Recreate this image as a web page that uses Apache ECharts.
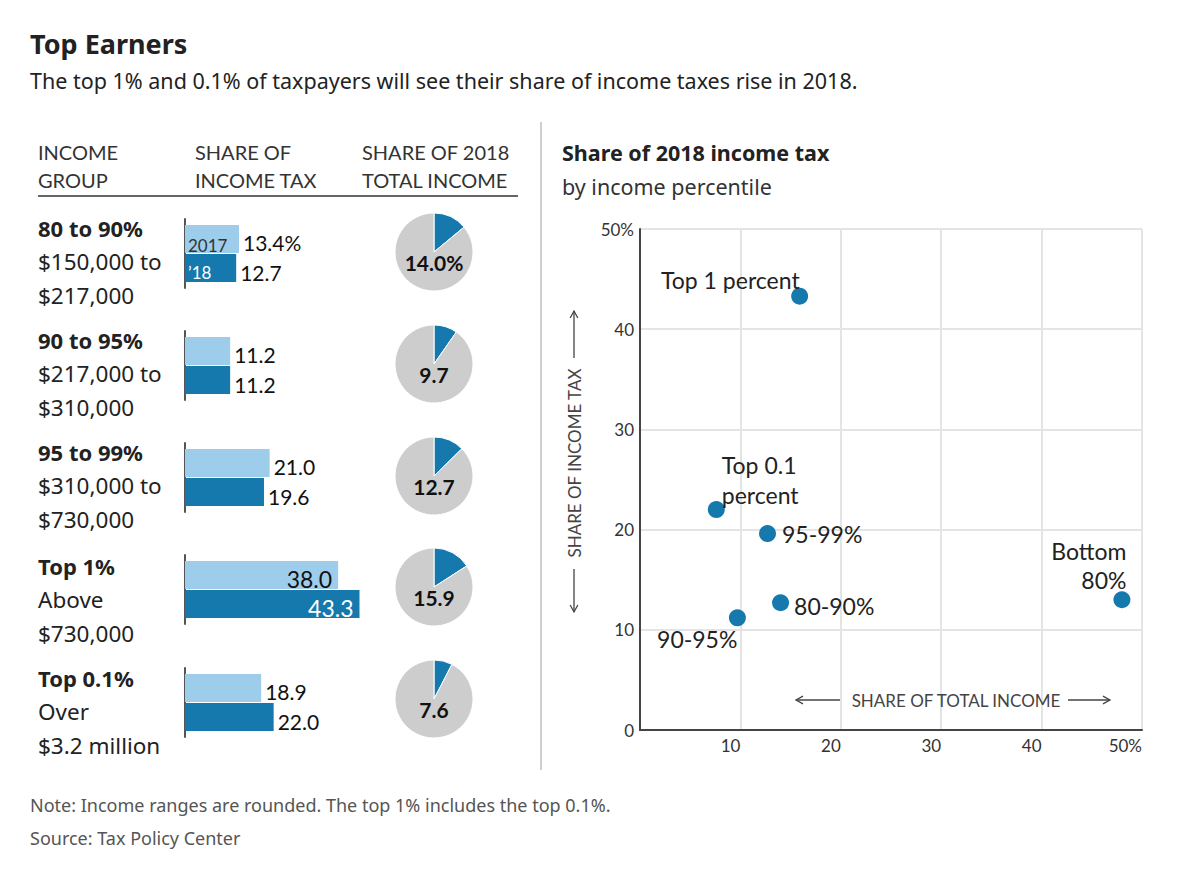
<!DOCTYPE html>
<html>
<head>
<meta charset="utf-8">
<script src="https://cdn.jsdelivr.net/npm/echarts@6/dist/echarts.min.js"></script>
<style>
html, body { margin: 0; padding: 0; background: #fff; }
#chart { width: 1202px; height: 878px; }
</style>
</head>
<body>
<div id="chart"></div>
<script>
// table on the left
var groupNames = ['80 to 90%', '90 to 95%', '95 to 99%', 'Top 1%', 'Top 0.1%'];
var groupRanges = [['$150,000 to', '$217,000'], ['$217,000 to', '$310,000'], ['$310,000 to', '$730,000'], ['Above', '$730,000'], ['Over', '$3.2 million']];
var tax2017 = [13.4, 11.2, 21.0, 38.0, 18.9];
var tax2018 = [12.7, 11.2, 19.6, 43.3, 22.0];
var incomeShare = [14.0, 9.7, 12.7, 15.9, 7.6];

// scatter on the right
var pointNames = ['Top 1 percent', 'Top 0.1\npercent', '95-99%', '80-90%', '90-95%', 'Bottom\n80%'];
var pointIncome = [15.9, 7.6, 12.7, 14.0, 9.7, 48.0];
var pointTax = [43.3, 22.0, 19.6, 12.7, 11.2, 13.0];
var axisMax = 50;
var axisStep = 10;

var FONT = 'Lato, "Noto Sans", sans-serif';
var BODY = '"Noto Sans", Lato, sans-serif';
var DARK = '#1579ad', LIGHT = '#9dcdeb', GRAY = '#cdcdcd';

// layout of the rows
var rowTop = [219, 331, 443, 555, 668];
var pieY = [252, 364, 476, 587, 699];
var textY = [228, 340, 452, 566, 678];

// where each scatter label sits, relative to its dot
var labelPlace = [
  { position: [8.5, -7.5], align: 'right', verticalAlign: 'middle' },
  { position: [14, 9], align: 'left', verticalAlign: 'bottom', lineHeight: 30 },
  { position: [23, 9], align: 'left', verticalAlign: 'middle' },
  { position: [22, 12], align: 'left', verticalAlign: 'middle' },
  { position: [8.5, 29.5], align: 'right', verticalAlign: 'middle' },
  { position: [13, 3.5], align: 'right', verticalAlign: 'bottom', lineHeight: 29 }
];

function txt(x, y, s, size, opt) {
  opt = opt || {};
  return {
    type: 'text', x: x, y: y, z: 100, rotation: opt.rotation || 0, silent: true,
    style: {
      text: s, fontSize: size, fontFamily: opt.family || BODY,
      fontWeight: opt.bold ? 'bold' : 'normal', fill: opt.color || '#222',
      align: opt.align || 'left', verticalAlign: 'middle'
    }
  };
}

// thin arrow with an open head at (x2, y2)
function arrow(x1, y1, x2, y2) {
  var a = Math.atan2(y2 - y1, x2 - x1), h = 8, w = 0.5;
  return {
    type: 'group', silent: true, z: 100,
    children: [
      { type: 'line', shape: { x1: x1, y1: y1, x2: x2, y2: y2 }, style: { stroke: '#444', lineWidth: 1.3 } },
      { type: 'polyline', shape: { points: [
        [x2 - h * Math.cos(a - w), y2 - h * Math.sin(a - w)], [x2, y2],
        [x2 - h * Math.cos(a + w), y2 - h * Math.sin(a + w)]
      ] }, style: { stroke: '#444', lineWidth: 1.3, fill: null } }
    ]
  };
}

var grids = [], xAxes = [], yAxes = [], series = [], graphics = [];

groupNames.forEach(function (name, i) {
  grids.push({ left: 185, top: rowTop[i], width: 201.5, height: 69 });
  xAxes.push({ type: 'value', gridIndex: i, min: 0, max: axisMax, show: false });
  yAxes.push({
    type: 'category', gridIndex: i, data: [name],
    axisLine: { lineStyle: { color: '#555', width: 2 } },
    axisTick: { show: false }, axisLabel: { show: false }, splitLine: { show: false }
  });
  var inside = tax2017[i] > 30;
  [[tax2017, LIGHT, '#111', true], [tax2018, DARK, inside ? '#fff' : '#111', false]].forEach(function (s) {
    series.push({
      type: 'bar', xAxisIndex: i, yAxisIndex: i, data: [s[0][i]],
      barWidth: 28, barGap: '4%', silent: true,
      itemStyle: { color: s[1] },
      label: {
        show: true, position: inside ? 'insideRight' : 'right', distance: inside ? 6 : 4,
        offset: [0, 4], color: s[2], fontSize: inside ? 23 : 21, fontFamily: FONT,
        formatter: function (p) { return p.value.toFixed(1) + (i === 0 && s[3] ? '%' : ''); }
      }
    });
  });
  series.push({
    type: 'pie', center: [434, pieY[i]], radius: 39, startAngle: 90, clockwise: true,
    silent: true, animation: false,
    itemStyle: { borderColor: '#fff', borderWidth: 1 },
    label: {
      show: true, position: 'center', offset: [0, 10], color: '#111', fontSize: 21,
      fontWeight: 'bold', fontFamily: FONT,
      formatter: function (p) {
        return p.dataIndex === 0 ? incomeShare[i].toFixed(1) + (i === 0 ? '%' : '') : '';
      }
    },
    labelLine: { show: false },
    data: [
      { value: incomeShare[i], itemStyle: { color: DARK } },
      { value: 100 - incomeShare[i], itemStyle: { color: GRAY } }
    ]
  });
  graphics.push(txt(38, textY[i], name, 22, { bold: true }));
  graphics.push(txt(38, textY[i] + 33.5, groupRanges[i][0], 22.5));
  graphics.push(txt(38, textY[i] + 67, groupRanges[i][1], 22.5));
});

// scatter
grids.push({ left: 640, top: 229, width: 502, height: 501 });
var sIdx = groupNames.length;
xAxes.push({
  type: 'value', gridIndex: sIdx, min: 0, max: axisMax, interval: axisStep,
  axisLine: { show: true, lineStyle: { color: '#444', width: 2 } },
  axisTick: { show: false },
  splitLine: { show: true, lineStyle: { color: '#e4e4e4', width: 2 } },
  axisLabel: {
    align: 'right', margin: 7, fontSize: 17, color: '#333', fontFamily: FONT,
    formatter: function (v) { return v === 0 ? '' : (v === axisMax ? v + '%' : v); }
  }
});
yAxes.push({
  type: 'value', gridIndex: sIdx, min: 0, max: axisMax, interval: axisStep,
  axisLine: { show: true, lineStyle: { color: '#444', width: 2 } },
  axisTick: { show: false },
  splitLine: { show: true, lineStyle: { color: '#e4e4e4', width: 2 } },
  axisLabel: {
    margin: 6, fontSize: 17, color: '#333', fontFamily: FONT,
    formatter: function (v) { return v === axisMax ? v + '%' : v; }
  }
});
series.push({
  type: 'scatter', xAxisIndex: sIdx, yAxisIndex: sIdx, symbolSize: 17, silent: true,
  itemStyle: { color: DARK, opacity: 1 },
  data: pointNames.map(function (n, k) {
    var p = labelPlace[k];
    return {
      name: n, value: [pointIncome[k], pointTax[k]],
      label: {
        show: true, formatter: n, position: p.position, align: p.align,
        verticalAlign: p.verticalAlign, lineHeight: p.lineHeight || 24,
        fontSize: 23, color: '#222', fontFamily: FONT
      }
    };
  })
});

graphics.push(
  txt(30, 43, 'Top Earners', 27, { bold: true }),
  txt(30, 80, 'The top 1% and 0.1% of taxpayers will see their share of income taxes rise in 2018.', 21.5),
  txt(38, 152, 'INCOME', 20, { color: '#333', family: FONT }),
  txt(38, 180, 'GROUP', 20, { color: '#333', family: FONT }),
  txt(195, 152, 'SHARE OF', 20, { color: '#333', family: FONT }),
  txt(195, 180, 'INCOME TAX', 20, { color: '#333', family: FONT }),
  txt(362, 152, 'SHARE OF 2018', 20, { color: '#333', family: FONT }),
  txt(362, 180, 'TOTAL INCOME', 20, { color: '#333', family: FONT }),
  { type: 'line', silent: true, shape: { x1: 38, y1: 196, x2: 518, y2: 196 }, style: { stroke: '#666', lineWidth: 2 } },
  { type: 'line', silent: true, shape: { x1: 541, y1: 122, x2: 541, y2: 770 }, style: { stroke: '#cfcfcf', lineWidth: 2 } },
  txt(188, 245, '2017', 17, { color: '#333', family: FONT }),
  txt(188, 272, '\u201918', 17, { color: '#fff', family: FONT }),
  txt(562, 152, 'Share of 2018 income tax', 21.5, { bold: true }),
  txt(562, 186, 'by income percentile', 21.5, { color: '#333' }),
  txt(574, 463, 'SHARE OF INCOME TAX', 17, { align: 'center', color: '#444', rotation: Math.PI / 2, family: FONT }),
  arrow(574, 358, 574, 311),
  arrow(574, 569, 574, 612),
  txt(956, 700, 'SHARE OF TOTAL INCOME', 17, { align: 'center', color: '#444', family: FONT }),
  arrow(842, 700, 796, 700),
  arrow(1068, 700, 1110, 700),
  txt(30, 805, 'Note: Income ranges are rounded. The top 1% includes the top 0.1%.', 18, { color: '#555' }),
  txt(30, 838, 'Source: Tax Policy Center', 18, { color: '#555' })
);

var chart = echarts.init(document.getElementById('chart'), null, { renderer: 'svg' });
chart.setOption({
  animation: false,
  textStyle: { fontFamily: FONT },
  grid: grids,
  xAxis: xAxes,
  yAxis: yAxes,
  series: series,
  graphic: graphics
});
</script>
</body>
</html>
